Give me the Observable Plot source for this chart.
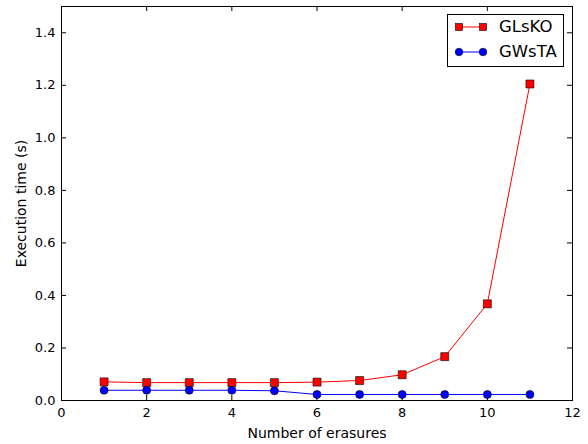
<!DOCTYPE html>
<html><head><meta charset="utf-8">
<script src="https://cdn.jsdelivr.net/npm/d3@7"></script>
<script src="https://cdn.jsdelivr.net/npm/@observablehq/plot@0.6"></script>
<style>
body{margin:0;background:#fff;font-family:"DejaVu Sans",sans-serif;}
#wrap{position:relative;width:588px;height:444px;}
#legend{position:absolute;left:447px;top:14px;width:117px;height:53px;border:1px solid #000;background:#fff;box-sizing:border-box;font:16.5px "DejaVu Sans",sans-serif;}
#legend .row{position:absolute;left:0;height:20px;width:115px;}
#legend .row svg{position:absolute;left:0;top:0;}
#legend .row span{position:absolute;left:51px;top:0;line-height:20px;}
</style></head>
<body><div id="wrap"><div id="chart"></div>
<div id="legend">
<div class="row" style="top:2px"><svg width="48" height="20"><line x1="11" x2="35" y1="10" y2="10" stroke="#ff0000"/><rect x="7.5" y="6.5" width="7" height="7" fill="#ff0000" stroke="#000" stroke-width="0.6"/><rect x="31.5" y="6.5" width="7" height="7" fill="#ff0000" stroke="#000" stroke-width="0.6"/></svg><span>GLsKO</span></div>
<div class="row" style="top:27px"><svg width="48" height="20"><line x1="11" x2="35" y1="10" y2="10" stroke="#0000ff"/><circle cx="11" cy="10" r="3.8" fill="#0000ff" stroke="#000" stroke-width="0.6"/><circle cx="35" cy="10" r="3.8" fill="#0000ff" stroke="#000" stroke-width="0.6"/></svg><span>GWsTA</span></div>
</div></div>
<script>
const erasures = [1,2,3,4,5,6,7,8,9,10,11];
const glsko = [0.071,0.068,0.068,0.068,0.068,0.070,0.076,0.098,0.167,0.368,1.205];
const gwsta = [0.039,0.039,0.039,0.039,0.037,0.023,0.023,0.023,0.023,0.023,0.023];
const xTicks = [0,2,4,6,8,10,12];
const yTicks = [0,0.2,0.4,0.6,0.8,1.0,1.2,1.4];

const A = erasures.map((x,i)=>({x, y: glsko[i]}));
const B = erasures.map((x,i)=>({x, y: gwsta[i]}));
const W = 588, H = 444, mL = 61, mR = 16, mT = 6, mB = 44;
const pw = W - mL - mR, ph = H - mT - mB, tk = 5;

const chart = Plot.plot({
  width: W, height: H,
  marginLeft: mL, marginRight: mR, marginTop: mT, marginBottom: mB,
  style: {fontFamily: "DejaVu Sans, sans-serif", fontSize: "13px", background: "transparent", color: "#000"},
  x: {domain: [0,12], label: null},
  y: {domain: [0,1.5], label: null},
  marks: [
    Plot.axisX(xTicks, {tickSize: 0, tickPadding: 7, tickFormat: d => String(d), fontSize: 13}),
    Plot.axisY(yTicks, {tickSize: 0, tickPadding: 6, tickFormat: d => d.toFixed(1), fontSize: 13}),
    Plot.ruleX(xTicks, {x: d => d, insetTop: ph - tk, stroke: "#000"}),
    Plot.ruleX(xTicks, {x: d => d, insetBottom: ph - tk, stroke: "#000"}),
    Plot.ruleY(yTicks, {y: d => d, insetRight: pw - tk, stroke: "#000"}),
    Plot.ruleY(yTicks, {y: d => d, insetLeft: pw - tk, stroke: "#000"}),
    Plot.line(A, {x: "x", y: "y", stroke: "#ff0000", strokeWidth: 1}),
    Plot.line(B, {x: "x", y: "y", stroke: "#0000ff", strokeWidth: 1}),
    Plot.dot(A, {x: "x", y: "y", symbol: "square", r: 4.5, fill: "#ff0000", stroke: "#000", strokeWidth: 0.6}),
    Plot.dot(B, {x: "x", y: "y", symbol: "circle", r: 4, fill: "#0000ff", stroke: "#000", strokeWidth: 0.6}),
    Plot.frame({stroke: "#000", strokeWidth: 1}),
    Plot.text(["Number of erasures"], {frameAnchor: "bottom", dy: 37, fontSize: 14}),
    Plot.text(["Execution time (s)"], {frameAnchor: "left", textAnchor: "middle", dx: -40, rotate: -90, fontSize: 14})
  ]
});
document.getElementById("chart").appendChild(chart);
</script></body></html>
